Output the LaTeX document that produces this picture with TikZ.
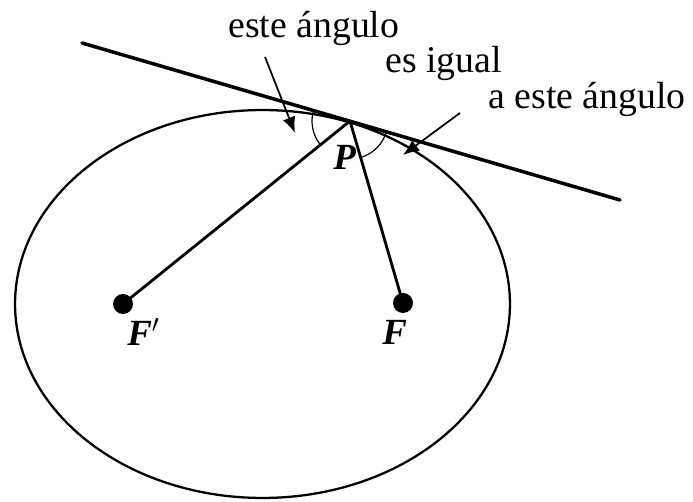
\documentclass[tikz,border=0pt]{standalone}
\usepackage{fontspec}
\setmainfont{Liberation Serif}
\usepackage{tikz}
\usetikzlibrary{arrows.meta, positioning, calc}

\begin{document}
\begin{tikzpicture}[
  x=0.02cm, y=-0.02cm,
  >={Latex[length=3.2mm, width=2.6mm]},
  lbl/.style={font=\fontsize{21.5}{24}\selectfont, inner sep=0pt, anchor=base west},
  pt/.style={font=\fontsize{21}{24}\selectfont\bfseries\itshape, inner sep=0pt, anchor=base west},
  focus/.style={circle, fill=black, inner sep=0pt, minimum size=0.4cm},
  ray/.style={line width=1.6pt},
  pointer/.style={->, line width=1pt},
]
  \useasboundingbox (0,0) rectangle (693,502);

  % --- ellipse, foci and tangent ----------------------------------
  \coordinate (Pt) at (350,121);
  \coordinate (T1) at (82,43);
  \coordinate (T2) at (620,200);
  \node[focus] (Fp) at (123,304) {};
  \node[focus] (F) at (403,303) {};

  \draw[line width=1.3pt] (262.5,304) ellipse [x radius=4.95cm, y radius=3.88cm];
  \draw[line width=2pt, line cap=round] (T1) -- (T2);
  \draw[ray] (Fp.center) -- (Pt);
  \draw[ray] (F.center) -- (Pt);

  % --- equal angles -----------------------------------------------
  \draw[line width=0.7pt] (Pt) ++(163.7:0.76cm) arc[start angle=163.7, end angle=219, radius=0.76cm];
  \draw[line width=0.7pt] (Pt) ++(-73.8:0.76cm) arc[start angle=-73.8, end angle=-16.3, radius=0.76cm];

  % --- labels -----------------------------------------------------
  \node[pt] (lP) at (333,170) {P};
  \node[pt] (lFp) at (127,346) {F$'$};
  \node[pt] (lF) at (382,345) {F};

  \node[lbl] (este) at (228,38) {este ángulo};
  \node[lbl] (igual) at (385,73) {es igual};
  \node[lbl] (aeste) at (488,109) {a este ángulo};

  \coordinate (a1) at (265,57);
  \coordinate (a1tip) at (295,133);
  \coordinate (a2) at (460,113);
  \coordinate (a2tip) at (403,155);
  \draw[pointer] (a1) -- (a1tip);
  \draw[pointer] (a2) -- (a2tip);
\end{tikzpicture}
\end{document}
